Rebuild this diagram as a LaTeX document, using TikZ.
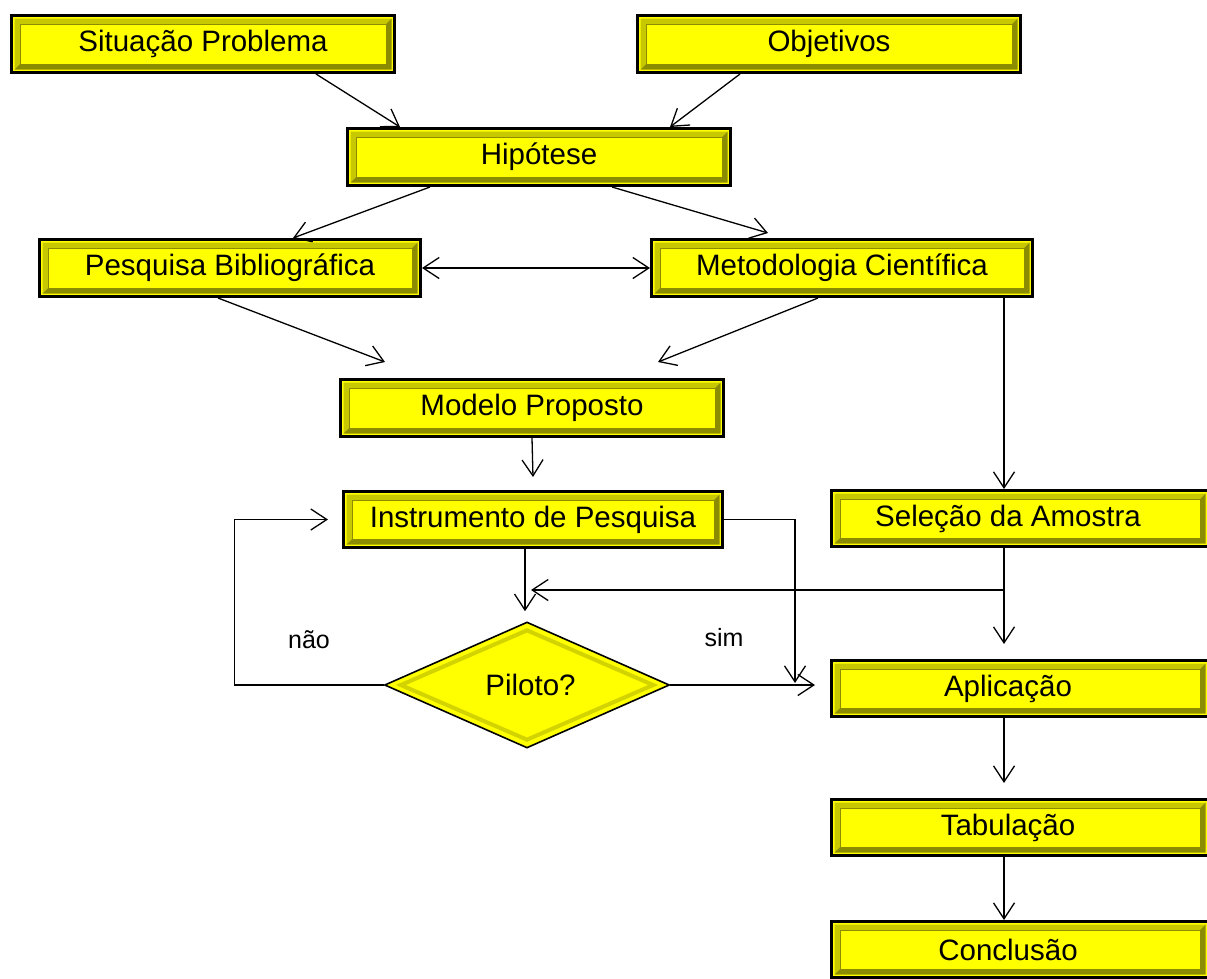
\documentclass[tikz,border=0pt]{standalone}
\usepackage{fontspec}
\setmainfont{Liberation Sans}
\usetikzlibrary{arrows.meta,calc,shapes.geometric}

\definecolor{boxyellow}{RGB}{255,255,0}
\definecolor{bevlight}{RGB}{200,200,0}
\definecolor{bevdark}{RGB}{140,140,0}

% raised frame drawn inside each box
\newcommand{\bevelframe}{%
  \coordinate (bNW) at (path picture bounding box.north west);
  \coordinate (bNE) at (path picture bounding box.north east);
  \coordinate (bSW) at (path picture bounding box.south west);
  \coordinate (bSE) at (path picture bounding box.south east);
  \fill[bevlight] ($(bNW)+(3pt,-3pt)$) -- ($(bNE)+(-3pt,-3pt)$) -- ($(bNE)+(-8.5pt,-8.5pt)$)
     -- ($(bNW)+(8.5pt,-8.5pt)$) -- ($(bSW)+(8.5pt,8.5pt)$) -- ($(bSW)+(3pt,3pt)$) -- cycle;
  \fill[bevdark] ($(bSE)+(-3pt,3pt)$) -- ($(bSW)+(3pt,3pt)$) -- ($(bSW)+(8.5pt,8.5pt)$)
     -- ($(bSE)+(-8.5pt,8.5pt)$) -- ($(bNE)+(-8.5pt,-8.5pt)$) -- ($(bNE)+(-3pt,-3pt)$) -- cycle;
  \draw[bevdark, line width=0.8pt] ($(bSW)+(8.5pt,8.5pt)$) -- ($(bNW)+(8.5pt,-8.5pt)$) -- ($(bNE)+(-8.5pt,-8.5pt)$);
}
\newcommand{\diabevel}{%
  \draw[bevlight!80!boxyellow, line width=4pt, line join=miter]
    ($(path picture bounding box.north)+(0pt,-8pt)$) -- ($(path picture bounding box.east)+(-16pt,0pt)$)
    -- ($(path picture bounding box.south)+(0pt,8pt)$) -- ($(path picture bounding box.west)+(16pt,0pt)$) -- cycle;
}
% shifts a label a little to the left inside its box
\newcommand{\lefttext}[1]{\hspace*{-12pt}#1\hspace*{12pt}}

\tikzset{
  box/.style={rectangle, draw=black, line width=3pt, fill=boxyellow,
    minimum width=383pt, minimum height=57pt, inner sep=0pt,
    font=\fontsize{29.5}{34}\selectfont, path picture={\bevelframe}},
  dia/.style={diamond, draw=black, line width=1.6pt, fill=boxyellow, inner sep=0pt,
    minimum width=285pt, minimum height=126pt,
    font=\fontsize{29.5}{34}\selectfont, path picture={\diabevel}},
  lbl/.style={font=\fontsize{25}{30}\selectfont, inner sep=0pt},
  tipA/.style={-{Straight Barb[length=16pt,width=21pt,line width=1.3pt]}},
  conn/.style={draw=black, line width=1.3pt, tipA},
  conn2/.style={draw=black, line width=1.3pt,
    {Straight Barb[length=16pt,width=21pt,line width=1.3pt]}-{Straight Barb[length=16pt,width=21pt,line width=1.3pt]}},
}

\begin{document}
\begin{tikzpicture}[x=1pt, y=-1pt]
\useasboundingbox (0,0) rectangle (1207,978);

% boxes
\node[box] (sit) at (203,44) {Situação Problema};
\node[box] (obj) at (829,44) {Objetivos};
\node[box] (hip) at (539,157) {Hipótese};
\node[box, minimum width=381pt] (pes) at (230,268) {Pesquisa Bibliográfica};
\node[box, minimum width=381pt] (met) at (842,268) {Metodologia Científica};
\node[box] (mod) at (532,408) {Modelo Proposto};
\node[box, minimum width=379pt, minimum height=56pt] (ins) at (533,519.5) {Instrumento de Pesquisa};
\node[box, minimum width=377pt, minimum height=56pt] (sel) at (1020,518.5) {\lefttext{Seleção da Amostra}};
\node[box, minimum width=377pt, minimum height=56pt] (apl) at (1020,688.5) {\lefttext{Aplicação}};
\node[box, minimum width=377pt, minimum height=56pt] (tab) at (1020,827.5) {\lefttext{Tabulação}};
\node[box, minimum width=377pt, minimum height=56pt] (con) at (1020,949.5) {\lefttext{Conclusão}};

% decision
\node[dia] (pil) at (527,685) {\hspace*{7pt}Piloto?};

% branch labels
\node[lbl] (nao) at (309,640) {não};
\node[lbl] (sim) at (724,638) {sim};

% connectors
\draw[conn] ([xshift=113pt]sit.south) -- ([xshift=-139pt]hip.north);
\draw[conn] ([xshift=-89pt]obj.south) -- ([xshift=131pt]hip.north);
\draw[conn] ([xshift=-109pt]hip.south) -- ([xshift=63pt]pes.north);
\draw[conn] ([xshift=73pt]hip.south) -- ([xshift=-74pt,yshift=5pt]met.north);
\draw[conn2] (pes.east) -- (met.west);
\draw[conn] ([xshift=-12pt]pes.south) -- ([xshift=-147pt,yshift=16pt]mod.north);
\draw[conn] ([xshift=-24pt]met.south) -- ([xshift=126pt,yshift=16pt]mod.north);
\draw[conn] (mod.south) -- ([yshift=13pt]ins.north);
\draw[conn] ([xshift=-8pt]ins.south) -- ([xshift=-2pt,yshift=10pt]pil.north);

\coordinate (insdrop) at (795,683);
\draw[conn] (ins.east) -| (insdrop);
\draw[conn] (pil.west) -- ++(-149,0) |- ([xshift=-14pt]ins.west);

\draw[conn] ([xshift=162pt]met.south) -- ([xshift=-16pt]sel.north);
\draw[conn] ([xshift=-16pt]sel.south) -- ([xshift=-16pt,yshift=15pt]apl.north);
\coordinate (junc) at (1004,590);
\draw[conn] (junc) -- ($(junc -| pil.north)+(4,0)$);
\draw[conn] (pil.east) -- ([xshift=-15pt]pil.east -| apl.west);
\draw[conn] ([xshift=-16pt]apl.south) -- ([xshift=-16pt,yshift=15pt]tab.north);
\draw[conn] ([xshift=-16pt]tab.south) -- ([xshift=-16pt]con.north);
\end{tikzpicture}
\end{document}
